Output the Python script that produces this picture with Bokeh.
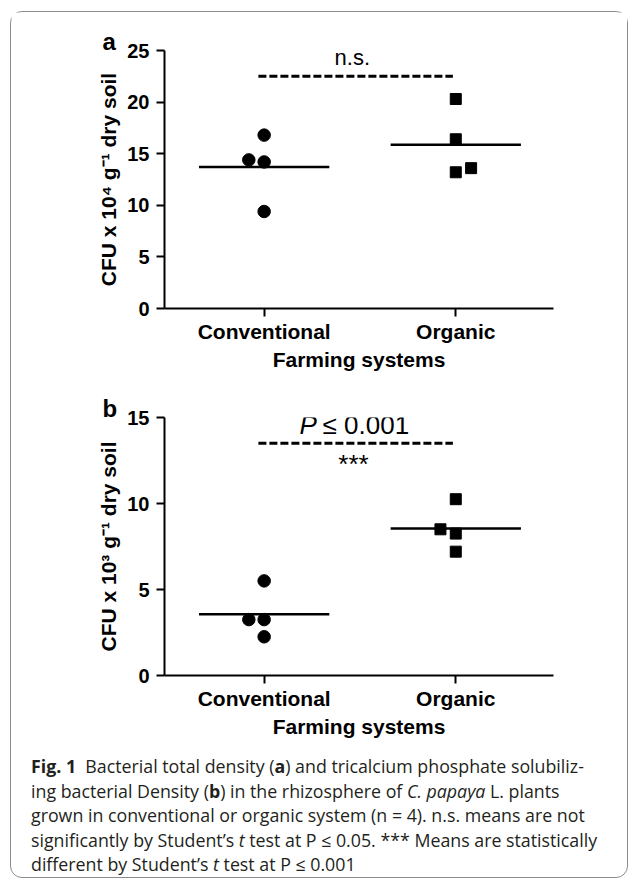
from bokeh.plotting import figure
from bokeh.models import Range1d, FixedTicker, Label, Div
from bokeh.layouts import column
from bokeh.embed import file_html
from bokeh.resources import INLINE
import numpy as np

# ---- data ----
groups = ["Conventional", "Organic"]
group_pos = [1, 2]

a_conv = [16.8, 14.4, 14.2, 9.4]
a_org = [20.3, 16.4, 13.6, 13.2]
a_conv_jitter = [0.0, -0.08, 0.0, 0.0]
a_org_jitter = [0.0, 0.0, 0.08, 0.0]

b_conv = [5.5, 3.25, 3.25, 2.25]
b_org = [10.25, 8.5, 8.25, 7.2]
b_conv_jitter = [0.0, -0.08, 0.0, 0.0]
b_org_jitter = [0.0, -0.08, 0.0, 0.0]

a_ticks = [0, 5, 10, 15, 20, 25]
b_ticks = [0, 5, 10, 15]

y_label_a = "CFU x 10\u2074 g\u207b\u00b9 dry soil"
y_label_b = "CFU x 10\u00b3 g\u207b\u00b9 dry soil"
x_label = "Farming systems"

FONT = "Liberation Sans"


def make_panel(conv, org, conv_j, org_j, ticks, ymax, ylabel, letter, height, top, bottom):
    p = figure(width=616, height=height, output_backend="svg", toolbar_location=None,
               x_range=Range1d(0.48, 2.51), y_range=Range1d(0, ymax),
               min_border_left=153, min_border_right=74,
               min_border_top=top, min_border_bottom=bottom,
               background_fill_color="white", border_fill_color="white",
               title=letter)
    p.title.align = "left"
    p.title.offset = -62
    p.title.standoff = -8
    p.title.text_font = FONT
    p.title.text_font_size = "24px"
    p.title.text_font_style = "bold"
    p.title.text_color = "black"

    p.outline_line_color = None
    p.xgrid.visible = False
    p.ygrid.visible = False

    for ax in (p.xaxis[0], p.yaxis[0]):
        ax.axis_line_width = 2
        ax.axis_line_color = "black"
        ax.major_tick_line_width = 2
        ax.major_tick_line_color = "black"
        ax.major_tick_out = 8
        ax.major_tick_in = 0
        ax.minor_tick_line_color = None
        ax.major_label_text_font = FONT
        ax.major_label_text_font_style = "bold"
        ax.major_label_text_color = "black"
        ax.axis_label_text_font = FONT
        ax.axis_label_text_font_style = "bold"
        ax.axis_label_text_color = "black"
        ax.axis_label_text_font_size = "21px"

    p.xaxis.ticker = FixedTicker(ticks=group_pos)
    p.xaxis.major_label_overrides = {g: n for g, n in zip(group_pos, groups)}
    p.xaxis.major_label_text_font_size = "21px"
    p.xaxis.major_label_standoff = 3
    p.xaxis.axis_label = x_label
    p.xaxis.axis_label_standoff = 2

    p.yaxis.ticker = FixedTicker(ticks=ticks)
    p.yaxis.major_label_text_font_size = "20px"
    p.yaxis.major_label_standoff = 7
    p.yaxis.axis_label = ylabel
    p.yaxis.axis_label_standoff = 4

    cx = [group_pos[0] + j for j in conv_j]
    ox = [group_pos[1] + j for j in org_j]
    p.scatter(cx, conv, marker="circle", size=12.5, color="black")
    p.scatter(ox, org, marker="square", size=11, color="black")

    means = [float(np.mean(conv)), float(np.mean(org))]
    p.segment(x0=[g - 0.34 for g in group_pos], x1=[g + 0.34 for g in group_pos],
              y0=means, y1=means, line_width=2.5, line_color="black")
    return p


pa = make_panel(a_conv, a_org, a_conv_jitter, a_org_jitter, a_ticks, 25, y_label_a, "a",
                373, 38, 77)
pa.segment(x0=[0.97], x1=[1.985], y0=[22.5], y1=[22.5], line_width=3,
           line_color="black", line_dash="8 3")
pa.add_layout(Label(x=1.46, y=24.33, text="n.s.", text_align="center",
                    text_baseline="alphabetic", text_font=FONT,
                    text_font_size="22px", text_color="black"))

pb = make_panel(b_conv, b_org, b_conv_jitter, b_org_jitter, b_ticks, 15, y_label_b, "b",
                360, 32, 70)
pb.segment(x0=[0.97], x1=[1.985], y0=[13.5], y1=[13.5], line_width=3,
           line_color="black", line_dash="8 3")
pb.add_layout(Label(x=1.275, y=14.56, text="P", text_align="right",
                    text_baseline="alphabetic", text_font=FONT,
                    text_font_size="26px", text_font_style="italic", text_color="black"))
pb.add_layout(Label(x=1.305, y=14.56, text="\u2264 0.001", text_align="left",
                    text_baseline="alphabetic", text_font=FONT,
                    text_font_size="26px", text_color="black"))
pb.add_layout(Label(x=1.466, y=12.32, text="***", text_align="center",
                    text_baseline="alphabetic", text_font=FONT,
                    text_font_size="26px", text_color="black"))

caption_lines = [
    "<b>Fig. 1</b>&nbsp; Bacterial total density (<b>a</b>) and tricalcium phosphate solubiliz-",
    "ing bacterial Density (<b>b</b>) in the rhizosphere of <i>C. papaya</i> L. plants",
    "grown in conventional or organic system (n = 4). n.s. means are not",
    "significantly by Student\u2019s <i>t</i> test at P \u2264 0.05. *** Means are statistically",
    "different by Student\u2019s <i>t</i> test at P \u2264 0.001",
]
caption_html = "".join(
    f'<div style="white-space:nowrap;">{ln}</div>' for ln in caption_lines
)

caption = Div(text=caption_html, width=616, height=132, margin=0,
              styles={"font-family": "'Open Sans'", "font-size": "17.8px",
                      "line-height": "24.5px", "color": "#231f20",
                      "padding-left": "20px", "padding-top": "9px",
                      "box-sizing": "border-box"})

layout = column(pa, pb, caption, margin=(11, 0, 0, 10),
                styles={"border": "1px solid #8c8c8c", "border-radius": "12px",
                        "background-color": "white"})

open("out.html", "w").write(file_html(layout, INLINE))
